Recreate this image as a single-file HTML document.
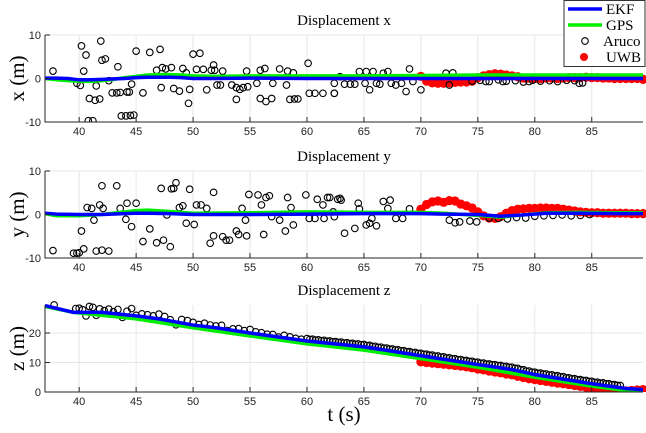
<!DOCTYPE html>
<html><head><meta charset="utf-8">
<style>
html,body{margin:0;padding:0;background:#fff;}
svg{display:block;font-family:"Liberation Sans",sans-serif;}
.ttl{font-family:"Liberation Serif",serif;font-size:15px;}
.yl{font-family:"Liberation Serif",serif;font-size:21px;}
.tk{font-size:11px;fill:#222;}
</style></head>
<body>
<svg id="chart" width="646" height="433" viewBox="0 0 646 433">
<g id="g1"></g>
<g id="g2"></g>
<g id="g3"></g>
<text class="yl" x="344" y="421" text-anchor="middle">t (s)</text>
<g>
<rect x="564" y="0.5" width="81" height="66" fill="#fff" stroke="#333" stroke-width="1"/>
<line x1="568" y1="9" x2="602" y2="9" stroke="#0000ff" stroke-width="3.5"/>
<text class="ttl" x="606" y="14">EKF</text>
<line x1="568" y1="25" x2="602" y2="25" stroke="#00ee00" stroke-width="3.5"/>
<text class="ttl" x="606" y="30">GPS</text>
<circle cx="585" cy="41" r="3.3" fill="none" stroke="#000" stroke-width="1.1"/>
<text class="ttl" x="603" y="46">Aruco</text>
<circle cx="584" cy="57" r="4" fill="#ff0000"/>
<text class="ttl" x="606" y="62">UWB</text>
</g>
</svg>
<script>
// ---- shared axis ticks ----
const tTicks = [40,45,50,55,60,65,70,75,80,85];
// ---- X panel data ----
const ekfXt = [37,38,39,40,41,42,43,44,45,46,47,48,49,50,52,55,60,65,70,75,80,85,89.5];
const ekfXv = [0.1,0.1,0.0,-0.3,-0.3,-0.2,-0.1,0.0,0.2,0.3,0.3,0.3,0.2,0.0,0.0,0.1,0.0,0.0,0.0,0.0,0.0,0.0,0.0];
const gpsXt = [37,38,39,40,41,42,43,44,45,46,47,48,49,50,52,55,60,65,70,75,80,85,89.5];
const gpsXv = [0.0,-0.3,-0.5,-0.6,-0.7,-0.5,-0.2,0.2,0.5,0.8,0.9,0.9,0.8,0.6,0.5,0.6,0.6,0.6,0.7,0.8,0.8,0.8,0.8];
const arucoXt = [37.7,40.2,40.6,40.4,41.9,42.0,42.3,43.4,45.0,46.2,47.1,50.0,50.6,51.8,40.9,41.4,41.8,42.9,43.3,43.6,44.2,44.4,44.6,45.6,43.7,44.1,44.5,44.8,40.8,41.2,39.8,40.1,41.5,42.6,47.2,48.3,48.8,49.6,49.7,51.2,46.8,47.3,47.6,48.1,49.1,49.4,50.3,50.9,51.6,51.9,52.6,52.1,52.4,53.4,53.8,54.1,54.4,54.7,53.8,54.8,55.9,56.3,55.9,56.4,56.9,57.6,58.3,58.8,58.5,58.9,59.2,60.1,60.2,60.7,61.4,62.4,58.2,57.0,55.6,
62.4,62.4,62.9,63.3,63.8,64.2,64.6,65.1,65.2,65.5,65.8,66.1,66.4,66.7,67.1,67.4,67.8,68.3,68.7,69.0,69.3,70.0,72.2,72.8,72.5,75.7,77.2,79.5,83.9,
74.5,75.2,76.0,76.8,77.5,78.3,79.0,79.8,80.5,81.3,82.0,82.8,83.5,84.2];
const arucoXv = [1.7,7.5,5.4,1.7,8.6,4.2,4.5,2.7,6.3,6.0,6.7,5.6,5.8,3.1,-4.6,-5.0,-4.7,-3.3,-3.3,-3.2,-3.1,-3.1,-1.3,-3.3,-8.6,-8.6,-8.5,-8.4,-9.7,-9.7,-1.1,-1.6,-1.7,-0.5,-2.1,-2.3,-2.9,-5.7,-2.5,-2.6,1.9,2.5,2.2,2.5,2.3,1.3,2.1,2.1,1.9,1.9,1.7,-1.5,-1.5,-1.5,-2.1,-2.5,-2.1,1.7,-4.8,-1.9,1.9,2.3,-4.6,-5.3,-4.6,2.2,1.7,1.3,-4.8,-4.7,-4.7,3.5,-3.4,-3.4,-3.4,-3.4,-1.5,-1.1,-1.1,
-1.1,-3.4,0.4,-1.3,-1.3,-1.3,1.6,-1.1,1.6,-2.6,1.6,-1.1,-1.3,1.2,1.6,-1.1,-1.5,-1.1,-3.0,2.2,-0.7,-2.6,1.2,1.3,-1.5,-0.7,-0.7,-0.7,-1.1,
-0.6,-0.4,-0.7,-0.3,-0.6,-0.5,-0.8,-0.4,-0.6,-0.5,-0.7,-0.4,-0.5,-1.0];
const uwbXt = [70,70.5,71,71.5,72,72.5,73,73.5,74,74.5,75,75.5,76,76.5,77,77.5,78,78.5,79,79.5,80,80.5,81,81.5,82,82.5,83,83.5,84,84.5,85,85.5,86,86.5,87,87.5,88,88.5,89,89.5];
const uwbXv = [0.5,-0.6,-1.0,-1.1,-1.1,-1.0,-0.9,-0.8,-0.8,-0.6,0.2,0.6,0.9,1.1,1.0,0.8,0.6,0.4,0.1,0.1,0.0,0.0,0.1,0.1,0.0,0.1,0.2,0.2,0.2,0.3,0.2,0.2,0.1,0.1,0.0,0.0,0.0,0.0,0.0,-0.2];
// ---- Y panel data ----
const ekfYt = [37,38,40,42,44,45,46,48,50,55,60,65,70,72,75,77,79,81,84,87,89.5];
const ekfYv = [0.3,0.1,0.0,0.0,0.2,0.3,0.3,0.2,0.0,0.0,0.1,0.2,0.2,0.1,0.0,-0.4,-0.1,0.3,0.3,0.2,0.2];
const gpsYt = [37,38,40,42,44,45,46,48,50,55,60,65,70,72,75,77,79,81,84,87,89.5];
const gpsYv = [0.2,-0.3,-0.3,0.0,0.6,0.9,1.0,0.7,0.3,0.4,0.6,0.5,0.5,0.3,-0.2,-0.6,-0.1,0.4,0.5,0.4,0.4];
const arucoYt = [37.7,39.5,39.8,40.0,40.4,40.2,40.7,41.1,41.3,42.0,41.8,42.1,41.5,42.0,42.6,43.3,43.6,44.1,44.2,44.6,45.0,45.6,46.2,46.8,47.2,47.4,48.0,48.1,48.3,48.5,47.7,48.8,49.1,49.4,49.7,50.1,50.3,50.7,51.2,51.8,51.5,51.8,52.6,52.9,53.2,53.8,54.0,54.7,54.3,54.6,54.9,55.7,56.0,56.4,56.7,56.2,56.9,57.6,58.3,58.1,58.8,58.6,59.9,60.2,60.7,60.9,61.4,61.5,61.8,62.4,62.7,
62.0,62.9,63.0,62.3,63.3,64.2,64.5,64.6,65.2,65.5,66.1,65.7,66.7,67.3,67.1,67.8,68.4,69.0,72.5,73.0,73.4,74.3,74.9,
76.0,76.8,77.6,78.4,79.2,80.0,80.8,81.6,82.4,83.2,84.0,84.8];
const arucoYv = [-8.3,-8.9,-8.9,-8.8,-7.9,-3.8,1.6,1.4,-1.3,6.6,2.2,1.4,-8.4,-8.2,-8.4,6.6,1.4,-1.1,2.6,-2.8,2.6,-6.2,-3.3,-6.5,6.0,-5.9,-7.4,5.9,6.0,7.3,-0.1,1.6,2.0,-2.0,5.8,-2.3,2.2,2.2,1.4,5.1,-6.6,-4.9,-5.1,-5.9,-5.9,-3.8,-4.6,-4.9,1.4,-1.3,4.6,4.5,2.2,3.9,4.3,-4.6,-0.5,-1.3,3.9,-3.8,-2.4,1.6,4.5,-0.9,-0.9,3.5,2.2,-0.9,3.9,-0.5,3.5,
3.9,3.7,3.3,0.6,-4.3,-3.2,2.6,1.3,-2.4,-2.0,-2.6,-0.9,3.0,3.3,1.4,-0.9,-0.9,1.3,-1.3,-1.9,-1.7,-1.5,-1.7,
-0.8,-0.9,-1.0,-0.7,-0.8,-0.4,-0.3,-0.2,-0.1,-0.3,-0.2,0.0];
const uwbYt = [70,70.5,71,71.5,72,72.5,73,73.5,74,74.5,75,75.5,76,76.5,77,77.5,78,78.5,79,79.5,80,80.5,81,81.5,82,82.5,83,83.5,84,84.5,85,85.5,86,86.5,87,87.5,88,88.5,89,89.5];
const uwbYv = [1.2,2.3,2.9,3.1,2.8,3.2,3.1,2.4,2.0,1.5,0.6,-0.3,-0.8,-0.9,-0.5,0.3,0.9,1.2,1.3,1.4,1.4,1.5,1.5,1.4,1.4,1.2,1.0,0.8,0.6,0.5,0.4,0.4,0.3,0.3,0.3,0.3,0.3,0.2,0.2,0.2];
// ---- Z panel data ----
const ekfZt = [37,39.5,42,45,47,50,52,55,60,65,70,75,78,80,85,88,89.5];
const ekfZv = [29.3,27.0,27.0,25.8,24.8,22.7,21.8,20.0,17.3,15.3,12.3,9.3,7.6,5.9,2.8,1.2,0.8];
const gpsZt = [37,39.5,42,45,50,55,60,65,70,75,80,85,88,89.5];
const gpsZv = [29.0,27.0,26.0,24.8,21.8,19.0,16.3,14.2,11.3,8.4,5.0,2.0,0.5,0.3];
const arucoZt = [37.8,39.7,40.0,40.3,40.6,40.9,41.2,41.5,41.8,42.2,42.6,43.0,43.4,43.8,44.2,44.6,45.0,45.5,46.0,46.5,47.0,47.5,48.0,48.5,49.0,49.5,50.0,50.5,51.0,51.5,52.0,52.5,53.0,53.5,54.0,54.5,55.0,55.5,56.0,56.5,57.0,57.5,58.0,58.5,59.0,59.5,
60,60.25,60.5,60.75,61,61.25,61.5,61.75,62,62.25,62.5,62.75,63,63.25,63.5,63.75,64,64.25,64.5,64.75,65,65.25,65.5,65.75,66,66.25,66.5,66.75,67,67.25,67.5,67.75,68,68.25,68.5,68.75,69,69.25,69.5,69.75,70,70.25,70.5,70.75,71,71.25,71.5,71.75,72,72.25,72.5,72.75,73,73.25,73.5,73.75,74,74.25,74.5,74.75,75,75.25,75.5,75.75,76,76.25,76.5,76.75,77,77.25,77.5,77.75,78,78.25,78.5,78.75,79,79.25,79.5,79.75,80,80.25,80.5,80.75,81,81.25,81.5,81.75,82,82.25,82.5,82.75,83,83.25,83.5,83.75,84,84.25,84.5,84.75,85,85.25,85.5,85.75,86,86.25,86.5,86.75,87,87.25,87.5];
const arucoZv = [29.5,28.3,28.4,27.9,25.8,29.0,28.7,26.0,28.2,27.6,28.1,27.2,28.0,25.3,27.4,28.3,26.0,26.5,26.2,25.8,26.4,25.6,24.5,22.8,24.6,24.2,23.6,22.9,23.3,22.7,22.4,22.6,20.8,21.4,21.5,20.8,21.2,20.4,20.1,19.6,19.5,18.6,19.2,18.7,18.2,17.9,
18.1,17.8,17.9,17.6,17.7,17.4,17.5,17.2,17.3,17.0,17.1,16.8,16.9,16.6,16.7,16.4,16.5,16.2,16.3,16.0,16.1,15.75,15.8,15.45,15.5,15.15,15.2,14.85,14.9,14.55,14.6,14.25,14.3,13.95,14.0,13.65,13.7,13.35,13.4,13.05,13.1,12.75,12.8,12.45,12.5,12.15,12.2,11.85,11.9,11.55,11.6,11.25,11.3,10.95,11.0,10.65,10.7,10.35,10.4,10.05,10.1,9.75,9.8,9.45,9.5,9.2,9.25,8.95,9.0,8.65,8.7,8.35,8.4,8.0,8.0,7.55,7.55,7.1,7.1,6.7,6.7,6.35,6.4,6.05,6.1,5.75,5.8,5.45,5.5,5.15,5.2,4.8,4.8,4.45,4.5,4.15,4.2,3.85,3.9,3.55,3.6,3.25,3.3,3.0,3.1,2.75,2.8,2.45,2.5,2.2,2.2];
const uwbZt = [70,70.5,71,71.5,72,72.5,73,73.5,74,74.5,75,75.5,76,76.5,77,77.5,78,78.5,79,79.5,80,80.5,81,81.5,82,82.5,83,83.5,84,84.5,85,85.5,86,86.5,87,87.5,88,88.5,89,89.5];
const uwbZv = [10.2,10.0,9.8,9.6,9.4,9.2,9.0,8.8,8.5,8.2,7.8,7.5,7.1,6.8,6.5,6.1,5.8,5.3,4.9,4.5,4.2,3.9,3.6,3.3,3.0,2.8,2.5,2.2,1.9,1.6,1.3,1.0,0.8,0.6,0.4,0.4,0.4,0.5,0.7,0.8];

const NS = "http://www.w3.org/2000/svg";
const X0 = 45, X1 = 643, TMIN = 37, TMAX = 89.5;
function xs(t){ return X0 + (t - TMIN) / (TMAX - TMIN) * (X1 - X0); }
function mk(tag, attrs, parent){
  const e = document.createElementNS(NS, tag);
  for (const k in attrs) e.setAttribute(k, attrs[k]);
  parent.appendChild(e);
  return e;
}
function panel(g, cfg){
  const ys = v => cfg.yb - (v - cfg.vmin) / (cfg.vmax - cfg.vmin) * (cfg.yb - cfg.yt);
  tTicks.forEach(t => {
    const l = mk('line', {x1:xs(t), x2:xs(t), y1:cfg.yt, y2:cfg.yb, stroke:'#e6e6e6', 'stroke-width':1}, g);
    
    
  });
  cfg.yticks.forEach(v => {
    const l = mk('line', {x1:X0, x2:X1, y1:ys(v), y2:ys(v), stroke:'#e6e6e6', 'stroke-width':1}, g);
    
    
  });
  const ti = mk('text', {x:344, y:cfg.yt - 10, 'text-anchor':'middle', class:'ttl'}, g);
  ti.textContent = cfg.title;
  
  
  const yl = mk('text', {x:0, y:0, 'text-anchor':'middle', class:'yl', transform:`translate(24,${(cfg.yt+cfg.yb)/2}) rotate(-90)`}, g);
  yl.textContent = cfg.ylabel;
  
  
  const clipId = 'c' + cfg.id;
  const cp = mk('clipPath', {id:clipId}, g);
  mk('rect', {x:X0, y:cfg.yt - 8, width:X1 - X0 + 4, height:cfg.yb - cfg.yt + 8}, cp);
  const sg = mk('g', {'clip-path':`url(#${clipId})`}, g);
  
  
  cfg.uwbT.forEach((t, i) => {
    const c = mk('circle', {cx:xs(t), cy:ys(cfg.uwbV[i]), r:4.6, fill:'#ff0000'}, sg);
    
    
  });
  cfg.arT.forEach((t, i) => {
    const c = mk('circle', {cx:xs(t), cy:ys(cfg.arV[i]), r:3.3, fill:'none', stroke:'#000', 'stroke-width':1.1}, sg);
    
    
  });
  const gp = mk('polyline', {points:cfg.gpsT.map((t,i)=>xs(t)+','+ys(cfg.gpsV[i])).join(' '), fill:'none', stroke:'#00ee00', 'stroke-width':3.5, 'stroke-linejoin':'round'}, sg);
  
  
  const ek = mk('polyline', {points:cfg.ekfT.map((t,i)=>xs(t)+','+ys(cfg.ekfV[i])).join(' '), fill:'none', stroke:'#0000ff', 'stroke-width':3.5, 'stroke-linejoin':'round'}, sg);
  
  
  const ax = mk('path', {d:`M${X0},${cfg.yt}V${cfg.yb}H${X1}`, fill:'none', stroke:'#262626', 'stroke-width':1}, g);
  
  
  tTicks.forEach(t => {
    mk('line', {x1:xs(t), x2:xs(t), y1:cfg.yb, y2:cfg.yb - 5, stroke:'#262626'}, g);
    const tl = mk('text', {x:xs(t), y:cfg.yb + 13, 'text-anchor':'middle', class:'tk'}, g);
    tl.textContent = t;
    
    
  });
  cfg.yticks.forEach(v => {
    mk('line', {x1:X0, x2:X0 + 5, y1:ys(v), y2:ys(v), stroke:'#262626'}, g);
    const tl = mk('text', {x:X0 - 4, y:ys(v) + 4, 'text-anchor':'end', class:'tk'}, g);
    tl.textContent = v;
    
    
  });
}
panel(document.getElementById('g1'), {id:1, title:'Displacement x', ylabel:'x (m)', yt:35, yb:122, vmin:-10, vmax:10, yticks:[-10,0,10],
  ekfT:ekfXt, ekfV:ekfXv, gpsT:gpsXt, gpsV:gpsXv, arT:arucoXt, arV:arucoXv, uwbT:uwbXt, uwbV:uwbXv});
panel(document.getElementById('g2'), {id:2, title:'Displacement y', ylabel:'y (m)', yt:171, yb:258, vmin:-10, vmax:10, yticks:[-10,0,10],
  ekfT:ekfYt, ekfV:ekfYv, gpsT:gpsYt, gpsV:gpsYv, arT:arucoYt, arV:arucoYv, uwbT:uwbYt, uwbV:uwbYv});
panel(document.getElementById('g3'), {id:3, title:'Displacement z', ylabel:'z (m)', yt:305, yb:392, vmin:0, vmax:29.5, yticks:[0,10,20],
  ekfT:ekfZt, ekfV:ekfZv, gpsT:gpsZt, gpsV:gpsZv, arT:arucoZt, arV:arucoZv, uwbT:uwbZt, uwbV:uwbZv});
</script>
</body></html>
